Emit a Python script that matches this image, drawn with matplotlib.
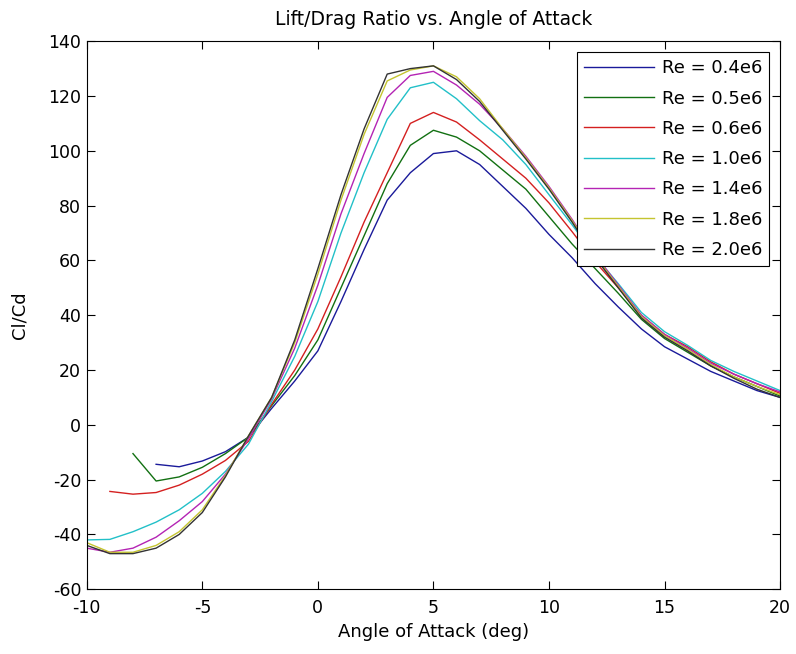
import numpy as np
import matplotlib
matplotlib.use("Agg")
import matplotlib.pyplot as plt

plt.rcParams['font.family'] = ['DejaVu Sans']
plt.rcParams['axes.unicode_minus'] = False

# angle of attack (deg), integer steps
alpha = np.arange(-10, 21)

labels = ['Re = 0.4e6', 'Re = 0.5e6', 'Re = 0.6e6', 'Re = 1.0e6',
          'Re = 1.4e6', 'Re = 1.8e6', 'Re = 2.0e6']

# first alpha of each curve (curves start at different angles)
start = [-7, -8, -9, -10, -10, -10, -10]

# Cl/Cd values, from the start angle up to 20 deg
re04 = [-14.4, -15.3, -13.2, -9.8, -4.5, 6, 16, 27, 45, 64, 82, 92, 99, 100,
        95, 87, 79, 69.5, 61, 51.5, 43, 35, 28.5, 24, 19.5, 16, 12.5, 10]
re05 = [-10.5, -20.5, -19, -15.5, -10.5, -4.5, 7, 18, 31, 50, 69, 88, 102, 107.5,
        105, 100, 93, 86, 76, 66, 57, 48, 38.5, 31.5, 26.5, 21.5, 17.5, 14, 10.5]
re06 = [-24.3, -25.3, -24.7, -22, -18, -13, -6, 7.5, 20, 35, 54, 74, 92, 110, 114,
        110.5, 104, 97, 90, 81, 70.5, 59.5, 50, 40, 33, 28.5, 23, 18.5, 15, 11.5]
re10 = [-42, -41.8, -39, -35.5, -31, -25, -17, -7, 8.5, 25, 45, 70, 92, 111.5, 123, 125,
        119, 111, 104, 95, 84, 73, 61.5, 51.5, 41, 34, 29, 23.5, 19.5, 16, 12.5]
re14 = [-45, -46.5, -45, -41, -35, -28, -18, -5, 9.5, 28, 51, 77, 99, 119.5, 127.5, 129,
        124, 117, 108, 98, 87, 75, 62, 51, 40, 33, 28, 22.5, 18.5, 15, 12]
re18 = [-43, -46.5, -46.5, -44, -39, -31, -18.5, -4, 10, 30, 55, 82, 106, 125.5, 129.5, 131,
        127, 119, 108, 97.5, 86.5, 74.5, 61.5, 50.5, 39.5, 32.5, 27.5, 22, 17.5, 14, 11]
re20 = [-44, -47, -47, -45, -40, -32, -19, -4, 10, 31, 57, 84, 108, 128, 130, 131,
        126, 118, 107.5, 97, 86, 74, 61, 50, 39, 32, 27, 21.5, 17, 13, 10]

series = [re04, re05, re06, re10, re14, re18, re20]
colors = ['#1a1a9a', '#127012', '#d42020', '#22c0c8', '#b424b4', '#c4c430', '#333333']

fig = plt.figure(figsize=(7.96, 6.54), dpi=100)
ax = fig.add_axes([0.109, 0.099, 0.871, 0.838])

for s, x0, lab, c in zip(series, start, labels, colors):
    x = np.arange(x0, x0 + len(s))
    ax.plot(x, s, color=c, lw=1.0, label=lab)

ax.set_xlim(-10, 20)
ax.set_ylim(-60, 140)
ax.set_xticks(np.arange(-10, 21, 5))
ax.set_yticks(np.arange(-60, 141, 20))
ax.tick_params(direction='in', top=True, right=True, labelsize=12.5,
               length=6, width=0.8, pad=4)
ax.tick_params(axis='x', pad=7)
for sp in ax.spines.values():
    sp.set_linewidth(0.8)

ax.set_xlabel('Angle of Attack (deg)', fontsize=13, labelpad=4)
ax.set_ylabel('Cl/Cd', fontsize=13, labelpad=14)
ax.set_title('Lift/Drag Ratio vs. Angle of Attack', fontsize=13.5, pad=12)

leg = ax.legend(loc='upper right', fontsize=13, frameon=True, fancybox=False,
                edgecolor='black', framealpha=1, handlelength=3.9, handletextpad=0.4,
                labelspacing=0.68, borderaxespad=0.6, borderpad=0.4)
leg.get_frame().set_linewidth(0.8)

fig.savefig('out.png', dpi=100)
